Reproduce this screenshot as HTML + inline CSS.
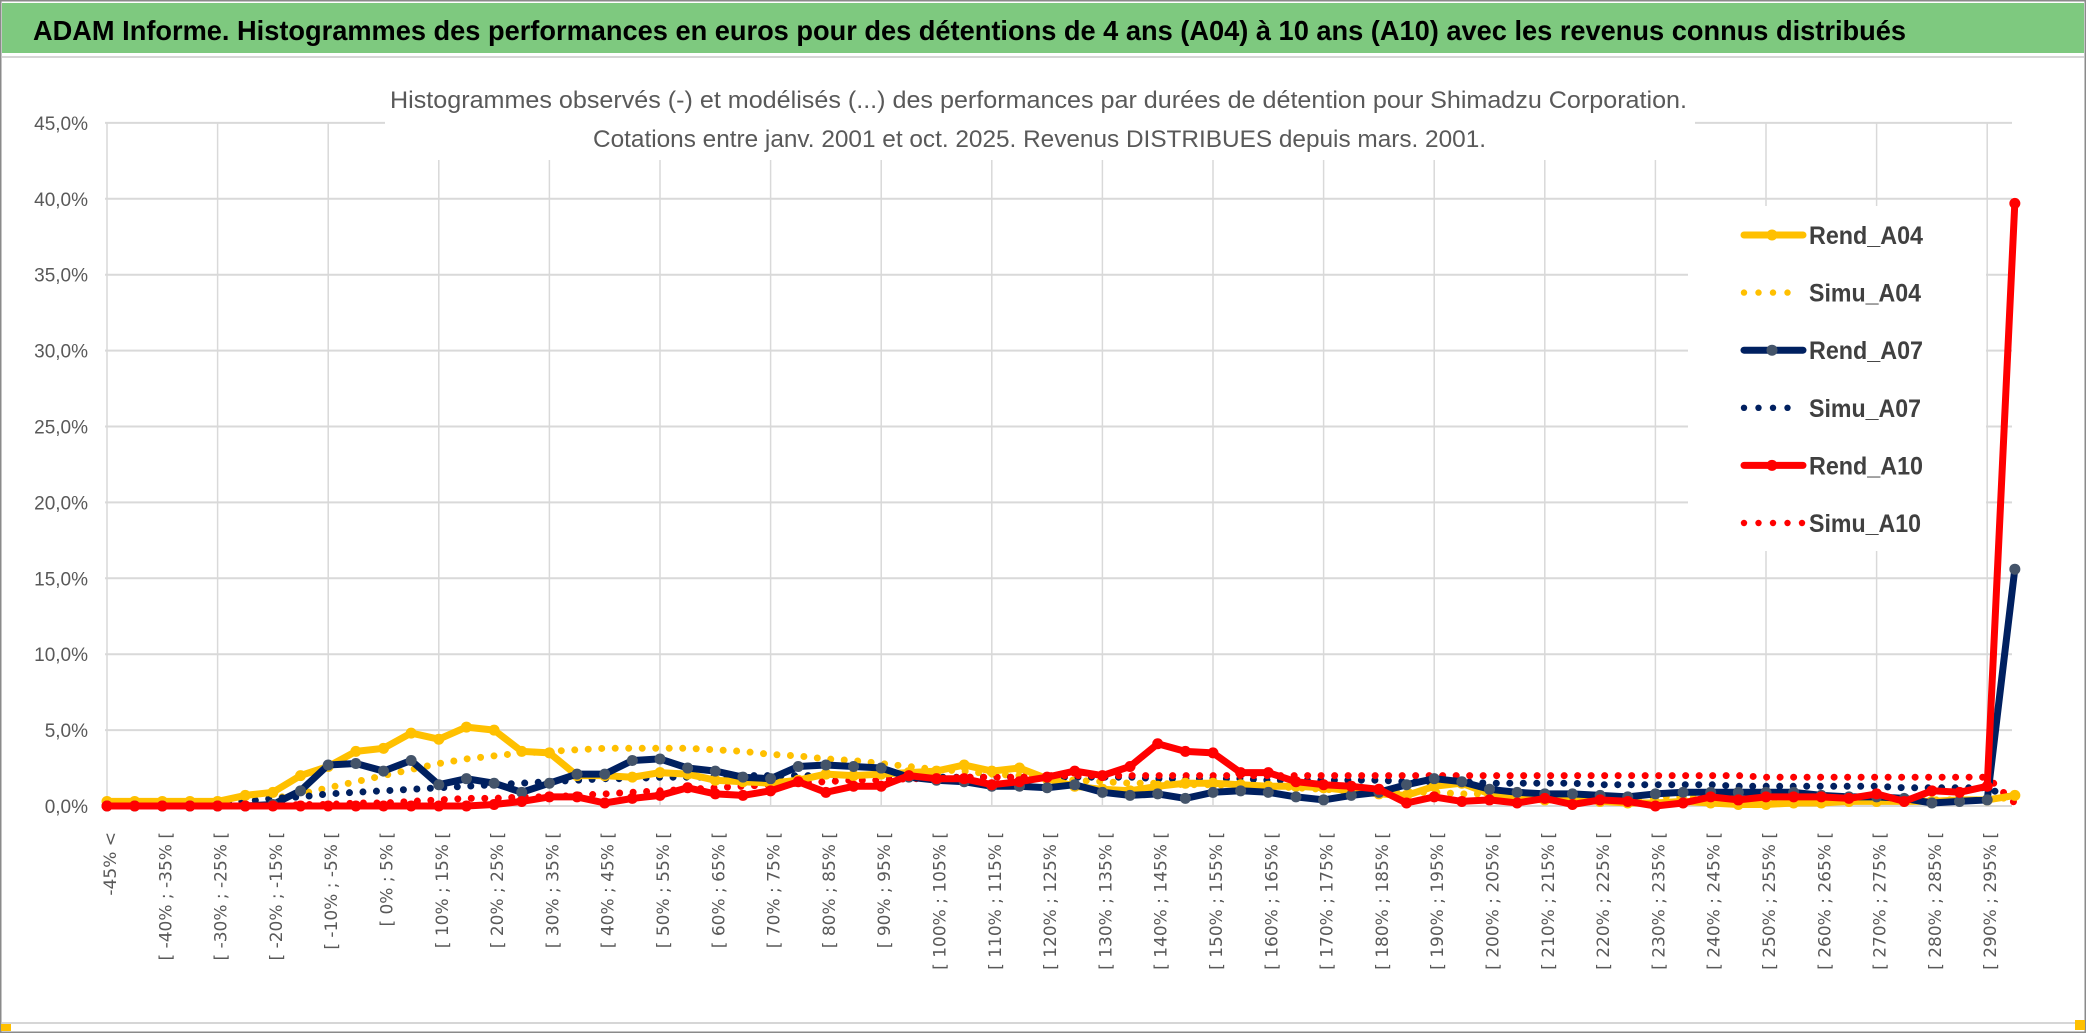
<!DOCTYPE html>
<html><head><meta charset="utf-8">
<style>
html,body{margin:0;padding:0;background:#fff;}
svg{display:block;}
</style></head>
<body>
<svg id="chart" width="2086" height="1033" viewBox="0 0 2086 1033" xmlns="http://www.w3.org/2000/svg">
  <rect x="0" y="0" width="2086" height="1033" fill="#fff"/>
  <rect x="2" y="3" width="2082" height="50" fill="#7ec97f"/>
  <text x="33" y="40" font-family="Liberation Sans, sans-serif" font-weight="bold" font-size="28" fill="#000" textLength="1873" lengthAdjust="spacingAndGlyphs">ADAM Informe. Histogrammes des performances en euros pour des détentions de 4 ans (A04) à 10 ans (A10) avec les revenus connus distribués</text>
  <line x1="2" y1="57" x2="2084" y2="57" stroke="#d6d6d6" stroke-width="2"/>
  <line x1="2" y1="1023" x2="2084" y2="1023" stroke="#d6d6d6" stroke-width="2"/>
  <rect x="0.5" y="0.5" width="2085" height="1032" fill="none" stroke="#8a8a8a" stroke-width="2"/>
  <rect x="1" y="1024" width="10" height="7" fill="#ffc000"/>
  <rect x="2075" y="1020" width="10" height="10" fill="#ffc000"/>
  <g id="grid"></g>
  <g id="yaxis"></g>
  <g id="xaxis"></g>
  <g id="series"></g>
  <rect x="385" y="80" width="1310" height="80" fill="#fff"/>
  <text x="390" y="108" font-family="Liberation Sans, sans-serif" font-size="24" fill="#595959" textLength="1297" lengthAdjust="spacingAndGlyphs">Histogrammes observés (-) et modélisés (...) des performances par durées de détention pour Shimadzu Corporation.</text>
  <text x="593" y="147" font-family="Liberation Sans, sans-serif" font-size="24" fill="#595959" textLength="893" lengthAdjust="spacingAndGlyphs">Cotations entre janv. 2001 et oct. 2025. Revenus DISTRIBUES depuis mars. 2001.</text>
  <g id="legend"></g>
</svg>
<script>
const categoriesLower = [];
const yTicks = [0,5,10,15,20,25,30,35,40,45];
const yTickLabels = ["0,0%","5,0%","10,0%","15,0%","20,0%","25,0%","30,0%","35,0%","40,0%","45,0%"];
const rendA04 = [0.3,0.3,0.3,0.3,0.3,0.7,0.9,2.0,2.6,3.6,3.8,4.8,4.4,5.2,5.0,3.6,3.5,2.0,2.0,1.9,2.2,2.1,1.7,1.6,1.5,1.7,2.1,2.0,2.1,2.2,2.3,2.7,2.3,2.5,1.8,1.3,1.1,1.0,1.3,1.5,1.5,1.4,1.3,1.3,1.2,1.0,0.8,0.7,1.3,1.5,0.8,0.5,0.4,0.4,0.3,0.2,0.2,0.3,0.2,0.1,0.1,0.2,0.2,0.3,0.3,0.3,0.3,0.4,0.4,0.7];
const simuA04 = [0.0,0.0,0.1,0.1,0.2,0.3,0.5,0.8,1.2,1.6,2.0,2.4,2.8,3.1,3.3,3.5,3.6,3.7,3.8,3.8,3.8,3.8,3.7,3.6,3.4,3.3,3.1,3.0,2.8,2.6,2.4,2.3,2.1,2.0,1.8,1.7,1.6,1.5,1.5,1.4,1.4,1.3,1.3,1.2,1.1,1.0,1.0,0.9,0.9,0.8,0.8,0.7,0.7,0.7,0.6,0.6,0.6,0.6,0.5,0.5,0.5,0.5,0.5,0.5,0.5,0.4,0.4,0.4,0.4,0.6];
const rendA07 = [0.0,0.0,0.0,0.0,0.0,0.0,0.1,1.0,2.7,2.8,2.3,3.0,1.4,1.8,1.5,0.9,1.5,2.1,2.1,3.0,3.1,2.5,2.3,1.9,1.8,2.6,2.7,2.6,2.5,1.9,1.7,1.6,1.3,1.3,1.2,1.4,0.9,0.7,0.8,0.5,0.9,1.0,0.9,0.6,0.4,0.7,0.9,1.4,1.8,1.6,1.1,0.9,0.8,0.8,0.7,0.6,0.8,0.9,0.9,0.9,0.9,0.9,0.7,0.6,0.6,0.5,0.2,0.3,0.4,15.6];
const simuA07 = [0.0,0.0,0.0,0.1,0.2,0.3,0.5,0.6,0.8,0.9,1.0,1.1,1.2,1.3,1.4,1.5,1.6,1.7,1.8,1.8,1.9,1.9,1.9,2.0,2.0,2.0,2.0,2.0,2.0,2.0,1.9,1.9,1.9,1.9,1.9,1.9,1.9,1.9,1.8,1.8,1.8,1.8,1.7,1.7,1.7,1.7,1.7,1.6,1.6,1.6,1.5,1.5,1.5,1.5,1.4,1.4,1.4,1.4,1.4,1.3,1.3,1.3,1.3,1.3,1.3,1.2,1.2,1.2,1.2,0.4];
const rendA10 = [0.0,0.0,0.0,0.0,0.0,0.0,0.0,0.0,0.0,0.0,0.0,0.0,0.0,0.0,0.1,0.3,0.6,0.6,0.2,0.5,0.7,1.2,0.8,0.7,1.0,1.6,0.9,1.3,1.3,2.0,1.8,1.8,1.4,1.6,1.9,2.3,2.0,2.6,4.1,3.6,3.5,2.2,2.2,1.6,1.4,1.3,1.1,0.2,0.6,0.3,0.4,0.2,0.5,0.1,0.4,0.3,0.0,0.2,0.6,0.4,0.6,0.6,0.6,0.5,0.8,0.3,1.0,0.9,1.3,39.7];
const simuA10 = [0.0,0.0,0.0,0.0,0.0,0.0,0.0,0.1,0.1,0.2,0.2,0.3,0.4,0.5,0.5,0.6,0.6,0.7,0.8,0.9,1.0,1.1,1.2,1.3,1.4,1.5,1.6,1.7,1.7,1.8,1.8,1.9,1.9,1.9,2.0,2.0,2.0,2.0,2.0,2.0,2.0,2.0,2.0,2.0,2.0,2.0,2.0,2.0,2.0,2.0,2.0,2.0,2.0,2.0,2.0,2.0,2.0,2.0,2.0,2.0,1.9,1.9,1.9,1.9,1.9,1.9,1.9,1.9,1.9,0.2];

for (let i = 0; i < 70; i++) categoriesLower.push(-50 + 5 * i);

const NS = "http://www.w3.org/2000/svg";
const X0 = 107, XSTEP = 27.65, Y0 = 806, YPER = 15.18;
function xPos(i){ return X0 + XSTEP * i; }
function yPos(v){ return Y0 - YPER * v; }
function mk(tag, attrs, parent){
  const e = document.createElementNS(NS, tag);
  for (const k in attrs) e.setAttribute(k, attrs[k]);
  parent.appendChild(e);
  return e;
}
function catLabel(i){
  if (i === 0) return "-45% <";
  const lo = categoriesLower[i];
  return "[ " + lo + "% ; " + (lo + 5) + "% [";
}

const grid = document.getElementById('grid');
const n = rendA04.length;
const xRight = 2012;
for (let t = 0; t < yTicks.length; t++) {
  const y = yPos(yTicks[t]);
  const l = mk('line', {x1: 105, y1: y, x2: xRight, y2: y, stroke: '#d9d9d9', 'stroke-width': 2}, grid);
  
  
}
for (let i = 0; i < n; i += 4) {
  const x = xPos(i);
  const l = mk('line', {x1: x, y1: yPos(45), x2: x, y2: Y0, stroke: '#d9d9d9', 'stroke-width': 1.5}, grid);
  
  
}

const yaxis = document.getElementById('yaxis');
for (let t = 0; t < yTicks.length; t++) {
  const tx = mk('text', {x: 88, y: yPos(yTicks[t]) + 7, 'text-anchor': 'end', 'font-family': 'Liberation Sans, sans-serif', 'font-size': 19, fill: '#595959'}, yaxis);
  tx.textContent = yTickLabels[t];
  
  
}

const xaxis = document.getElementById('xaxis');
for (let i = 0; i < n; i += 2) {
  const x = xPos(i) + 9, y = 832;
  const tx = mk('text', {x: x, y: y, transform: 'rotate(-90 ' + x + ' ' + y + ')', 'text-anchor': 'end', 'font-family': 'DejaVu Sans, sans-serif', 'font-size': 17, fill: '#595959'}, xaxis);
  tx.textContent = catLabel(i);
  
  
}

const seriesG = document.getElementById('series');
function pts(arr){ return arr.map((v, i) => xPos(i).toFixed(1) + ',' + yPos(v).toFixed(1)).join(' '); }
function dotted(arr, color, name){
  const p = mk('polyline', {points: pts(arr), fill: 'none', stroke: color, 'stroke-width': 7, 'stroke-dasharray': '0 13.5', 'stroke-linecap': 'round', 'stroke-linejoin': 'round'}, seriesG);
  
  
}
function solid(arr, color, marker, name){
  const g = mk('g', {}, seriesG);
  
  
  const p = mk('polyline', {points: pts(arr), fill: 'none', stroke: color, 'stroke-width': 7, 'stroke-linejoin': 'round'}, g);
  
  
  arr.forEach((v, i) => {
    const c = mk('circle', {cx: xPos(i), cy: yPos(v), r: 5.5, fill: marker}, g);
    
    
  });
}
dotted(simuA04, '#ffc000', 'series-simu-a04');
dotted(simuA07, '#002060', 'series-simu-a07');
dotted(simuA10, '#ff0000', 'series-simu-a10');
solid(rendA04, '#ffc000', '#ffc000', 'series-rend-a04');
solid(rendA07, '#002060', '#44546a', 'series-rend-a07');
solid(rendA10, '#ff0000', '#ff0000', 'series-rend-a10');

const legend = document.getElementById('legend');
const lbg = mk('rect', {x: 1688, y: 206, width: 298, height: 345, fill: '#fff'}, legend);


const legNames = ["Rend_A04","Simu_A04","Rend_A07","Simu_A07","Rend_A10","Simu_A10"];
const legColors = ["#ffc000","#ffc000","#002060","#002060","#ff0000","#ff0000"];
const legMarkers = ["#ffc000",null,"#44546a",null,"#ff0000",null];
for (let k = 0; k < legNames.length; k++) {
  const y = 235 + k * 57.6;
  const g = mk('g', {}, legend);
  
  
  if (k % 2 === 0) {
    mk('line', {x1: 1744, y1: y, x2: 1803, y2: y, stroke: legColors[k], 'stroke-width': 7, 'stroke-linecap': 'round'}, g);
    mk('circle', {cx: 1772, cy: y, r: 5.5, fill: legMarkers[k]}, g);
  } else {
    const cnt = k === 5 ? 5 : 4;
    for (let d = 0; d < cnt; d++) mk('circle', {cx: 1744 + d * 14.5, cy: y, r: 3.2, fill: legColors[k]}, g);
  }
  const tx = mk('text', {x: 1809, y: y + 9, 'font-family': 'Liberation Sans, sans-serif', 'font-weight': 'bold', 'font-size': 25, fill: '#404040', textLength: (k % 2 === 0 ? 114 : 112), lengthAdjust: 'spacingAndGlyphs'}, g);
  tx.textContent = legNames[k];
  
  
}
</script>
</body></html>
